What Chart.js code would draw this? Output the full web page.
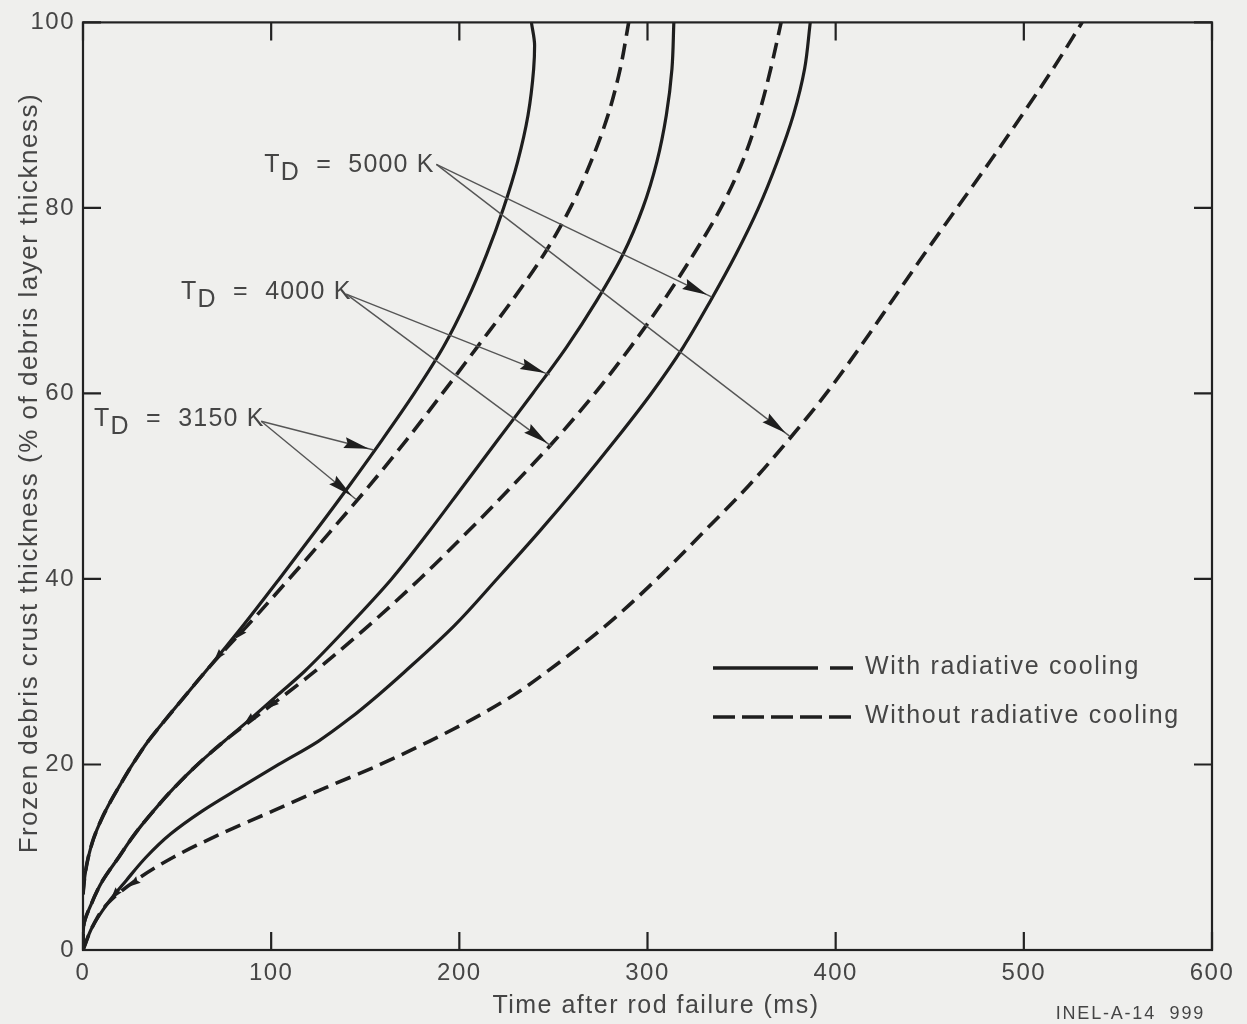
<!DOCTYPE html>
<html>
<head>
<meta charset="utf-8">
<title>Frozen debris crust thickness</title>
<script src="https://cdn.jsdelivr.net/npm/chart.js@4.4.1/dist/chart.umd.min.js"></script>
<style>
  html, body { margin: 0; padding: 0; background: #efefed; }
  #wrap { width: 1247px; height: 1024px; }
</style>
</head>
<body>
<div id="wrap"><canvas id="crustChart" width="1247" height="1024"></canvas></div>
<script>
// axis ticks
const timeTicks = [0, 100, 200, 300, 400, 500, 600];
const crustTicks = [0, 20, 40, 60, 80, 100];
const legendLabels = ['With radiative cooling', 'Without radiative cooling'];

// T_D = 3150 K (crust in % of debris layer, time in ms)
const with3150Crust = [6, 8, 10, 12, 14, 16, 18, 20, 22.5, 25, 27.5, 30, 32.5, 35, 40, 45, 50, 55, 60, 65, 70, 75, 80, 85, 90, 95, 97.5, 100];
const with3150Time  = [0, 1, 2.8, 5.6, 9.6, 14.6, 20.3, 26.3, 34.6, 44.5, 54.7, 65, 75.2, 85.2, 104.3, 123, 141.3, 159, 176, 191.5, 204, 214.5, 223.5, 231, 236.5, 239.5, 240, 238.3];
const without3150Crust = [6, 8, 10, 12, 14, 16, 18, 20, 22.5, 25, 27.5, 30, 32.5, 35, 40, 45, 50, 55, 60, 65, 70, 75, 80, 85, 90, 95, 100];
const without3150Time  = [0, 1, 2.8, 5.6, 9.6, 14.6, 20.3, 26.3, 34.6, 44.5, 54.7, 65, 76, 87.5, 109.5, 131, 152, 172, 191, 209.5, 228, 245, 259, 270, 279, 285.5, 290];

// T_D = 4000 K
const with4000Crust = [0, 2.5, 5, 7.5, 10, 12.5, 15, 17.5, 20, 22.5, 25, 27.5, 30, 35, 40, 45, 50, 55, 60, 65, 70, 75, 80, 85, 90, 95, 100];
const with4000Time  = [0, 0.3, 4.5, 10.5, 19, 27.5, 37.5, 48.5, 60.9, 75, 89.5, 103.5, 117.5, 141.5, 164, 183.5, 202, 220.5, 239, 257, 273, 287, 297.5, 305, 310, 313, 314];
const without4000Crust = [0, 2.5, 5, 7.5, 10, 12.5, 15, 17.5, 20, 22.5, 25, 30, 35, 40, 45, 50, 55, 60, 65, 70, 75, 80, 85, 90, 95, 100];
const without4000Time  = [0, 0.3, 4.5, 10.5, 19, 27.5, 37.5, 48.5, 60.9, 75, 91, 123, 152, 179, 204, 228, 251, 272, 291, 308.5, 324.5, 339, 350.5, 359, 365.5, 371];

// T_D = 5000 K
const with5000Crust = [0, 2.5, 5, 7.5, 10, 12.5, 15, 17.5, 20, 22.5, 25, 27.5, 30, 35, 40, 45, 50, 55, 60, 65, 70, 75, 80, 85, 90, 95, 100];
const with5000Time  = [0, 5, 13, 23, 33.5, 46.5, 63.5, 83.5, 104, 125, 142, 157, 171, 197.5, 220, 242, 263, 283, 302, 319, 333.5, 347, 359, 369, 377.5, 383.5, 386.5];
const without5000Crust = [0, 2.5, 5, 7.5, 10, 12.5, 15, 17.5, 20, 22.5, 25, 27.5, 30, 35, 40, 45, 50, 55, 60, 65, 70, 75, 80, 85, 90, 95, 100];
const without5000Time  = [0, 5, 13, 28, 48, 73, 101, 129, 158, 184, 208, 229, 246.5, 278, 305, 329.5, 353.5, 375, 395, 413, 430, 447, 464.5, 482, 499, 515.5, 531];

const series = [
  { name: '3150 K with',    t: with3150Time,    y: with3150Crust,    dashed: false },
  { name: '3150 K without', t: without3150Time, y: without3150Crust, dashed: true },
  { name: '4000 K with',    t: with4000Time,    y: with4000Crust,    dashed: false },
  { name: '4000 K without', t: without4000Time, y: without4000Crust, dashed: true },
  { name: '5000 K with',    t: with5000Time,    y: with5000Crust,    dashed: false },
  { name: '5000 K without', t: without5000Time, y: without5000Crust, dashed: true }
];

// temperature callouts: label anchor + arrow start/ends, in data units
const callouts = [
  { temp: '5000 K', at: [96.3, 83.9], from: [187.8, 84.7], to: [[334, 70.4], [375.5, 55.4]] },
  { temp: '4000 K', at: [52.1, 70.2], from: [139.9, 70.7], to: [[248, 62], [249, 54.3]] },
  { temp: '3150 K', at: [5.9, 56.5],  from: [94.7, 57],    to: [[154.5, 53.9], [145, 48.6]] }
];

// small arrow marks where the dashed curve leaves the solid one (series index, crust %)
const splitMarks = [[0, 31.1], [1, 33.5], [2, 24.3], [3, 26], [4, 5.4], [5, 6.8]];

const INK = '#1e1e1e';
const TEXT = '#454545';
const FONT = '"Liberation Sans", Arial, Helvetica, sans-serif';

Chart.defaults.font.family = FONT;
Chart.defaults.color = TEXT;

function timeAt(s, crust) {
  for (let i = 1; i < s.y.length; i++) {
    if (crust <= s.y[i]) {
      const f = (crust - s.y[i - 1]) / (s.y[i] - s.y[i - 1]);
      return s.t[i - 1] + f * (s.t[i] - s.t[i - 1]);
    }
  }
  return s.t[s.t.length - 1];
}

const paperPlugin = {
  id: 'paper',
  beforeDraw(chart) {
    const ctx = chart.ctx;
    ctx.save();
    ctx.fillStyle = '#efefed';
    ctx.fillRect(0, 0, chart.width, chart.height);
    ctx.restore();
    ctx.letterSpacing = '1.5px';
  }
};

// frame with inward tick marks on all four sides
const framePlugin = {
  id: 'frame',
  afterDraw(chart) {
    const { ctx, chartArea: a, scales } = chart;
    const tl = 18;
    ctx.save();
    ctx.strokeStyle = '#222';
    ctx.lineWidth = 2.2;
    ctx.strokeRect(a.left, a.top, a.right - a.left, a.bottom - a.top);
    ctx.beginPath();
    timeTicks.forEach(v => {
      const x = scales.x.getPixelForValue(v);
      ctx.moveTo(x, a.bottom); ctx.lineTo(x, a.bottom - tl);
      ctx.moveTo(x, a.top); ctx.lineTo(x, a.top + tl);
    });
    crustTicks.forEach(v => {
      const y = scales.y.getPixelForValue(v);
      ctx.moveTo(a.left, y); ctx.lineTo(a.left + tl, y);
      ctx.moveTo(a.right, y); ctx.lineTo(a.right - tl, y);
    });
    ctx.stroke();

    ctx.letterSpacing = '1.8px';
    ctx.font = '18px ' + FONT;
    ctx.fillStyle = TEXT;
    ctx.textAlign = 'right';
    ctx.textBaseline = 'alphabetic';
    ctx.fillText('INEL-A-14  999', 1205, 1019);
    ctx.restore();
  }
};

function drawHead(ctx, tx, ty, ang, len, hw) {
  const c = Math.cos(ang), s = Math.sin(ang);
  const bx = tx - len * c, by = ty - len * s;
  ctx.beginPath();
  ctx.moveTo(tx, ty);
  ctx.lineTo(bx + hw * s, by - hw * c);
  ctx.lineTo(bx + 0.12 * len * c, by + 0.12 * len * s);
  ctx.lineTo(bx - hw * s, by + hw * c);
  ctx.closePath();
  ctx.fill();
}

function drawArrow(ctx, x0, y0, x1, y1) {
  ctx.beginPath();
  ctx.moveTo(x0, y0);
  ctx.lineTo(x1, y1);
  ctx.stroke();
  const ang = Math.atan2(y1 - y0, x1 - x0);
  drawHead(ctx, x1 - 5 * Math.cos(ang), y1 - 5 * Math.sin(ang), ang, 25, 5.5);
}

const calloutPlugin = {
  id: 'callouts',
  afterDatasetsDraw(chart) {
    const { ctx, scales } = chart;
    const px = p => [scales.x.getPixelForValue(p[0]), scales.y.getPixelForValue(p[1])];
    ctx.save();
    ctx.font = '25px ' + FONT;
    ctx.letterSpacing = '1.2px';
    ctx.textBaseline = 'alphabetic';
    ctx.textAlign = 'left';
    callouts.forEach(c => {
      const [lx, ly] = px(c.at);
      ctx.fillStyle = TEXT;
      ctx.fillText('T', lx, ly);
      const wT = ctx.measureText('T').width;
      ctx.fillText('D', lx + wT, ly + 8);
      const wD = ctx.measureText('D').width;
      ctx.fillText('  =  ' + c.temp, lx + wT + wD, ly);

      ctx.strokeStyle = '#555';
      ctx.fillStyle = INK;
      ctx.lineWidth = 1.4;
      const [fx, fy] = px(c.from);
      c.to.forEach(t => {
        const [ex, ey] = px(t);
        drawArrow(ctx, fx, fy, ex, ey);
      });
    });

    // split marks, pointing back down the curve
    ctx.fillStyle = INK;
    splitMarks.forEach(([si, crust]) => {
      const s = series[si];
      const [x1, y1] = px([timeAt(s, crust), crust]);
      const [x0, y0] = px([timeAt(s, crust + 1.5), crust + 1.5]);
      drawHead(ctx, x1, y1, Math.atan2(y1 - y0, x1 - x0), 13, 4);
    });
    ctx.restore();
  }
};

const legendPlugin = {
  id: 'sideLegend',
  afterDatasetsDraw(chart) {
    const ctx = chart.ctx;
    ctx.save();
    ctx.strokeStyle = INK;
    ctx.lineWidth = 3.5;
    // solid sample
    ctx.beginPath();
    ctx.moveTo(713, 668); ctx.lineTo(818, 668);
    ctx.moveTo(830, 668); ctx.lineTo(853, 668);
    ctx.stroke();
    // dashed sample
    ctx.setLineDash([22, 7]);
    ctx.beginPath();
    ctx.moveTo(713, 717); ctx.lineTo(853, 717);
    ctx.stroke();
    ctx.setLineDash([]);
    ctx.font = '25px ' + FONT;
    ctx.letterSpacing = '1.7px';
    ctx.fillStyle = TEXT;
    ctx.textAlign = 'left';
    ctx.textBaseline = 'middle';
    ctx.fillText(legendLabels[0], 865, 667);
    ctx.fillText(legendLabels[1], 865, 716);
    ctx.restore();
  }
};

const ctx = document.getElementById('crustChart').getContext('2d');
const crustChart = new Chart(ctx, {
  type: 'line',
  data: {
    datasets: series.map(s => ({
      label: s.name,
      data: s.y.map((v, i) => ({ x: s.t[i], y: v })),
      borderColor: INK,
      borderWidth: s.dashed ? 3.6 : 3.2,
      borderDash: s.dashed ? [16, 8] : [],
      pointRadius: 0,
      cubicInterpolationMode: 'monotone',
      fill: false
    }))
  },
  options: {
    indexAxis: 'y',   // curves are single-valued in crust thickness
    responsive: false,
    animation: false,
    devicePixelRatio: 1,
    layout: { padding: { top: 17, right: 35, left: 0, bottom: 0 } },
    plugins: {
      legend: { display: false },
      tooltip: { enabled: false }
    },
    scales: {
      x: {
        type: 'linear',
        position: 'bottom',
        min: 0,
        max: 600,
        afterBuildTicks: scale => { scale.ticks = timeTicks.map(v => ({ value: v })); },
        afterFit: scale => { scale.height = 74; },
        grid: { display: false, drawTicks: false },
        border: { display: false },
        ticks: { padding: 9, font: { size: 24 }, color: TEXT, maxRotation: 0 },
        title: {
          display: true,
          text: '  Time after rod failure (ms)',
          font: { size: 25 },
          color: TEXT,
          padding: { top: 0, bottom: 3 }
        }
      },
      y: {
        type: 'linear',
        position: 'left',
        min: 0,
        max: 100,
        afterBuildTicks: scale => { scale.ticks = crustTicks.map(v => ({ value: v })); },
        afterFit: scale => { scale.width = 83; },
        grid: { display: false, drawTicks: false },
        border: { display: false },
        ticks: { padding: 8, font: { size: 24 }, color: TEXT },
        title: {
          display: true,
          text: '   Frozen debris crust thickness (% of debris layer thickness)',
          font: { size: 26 },
          color: TEXT,
          padding: { top: 14, bottom: 0 }
        }
      }
    }
  },
  plugins: [paperPlugin, framePlugin, calloutPlugin, legendPlugin]
});
</script>
</body>
</html>
